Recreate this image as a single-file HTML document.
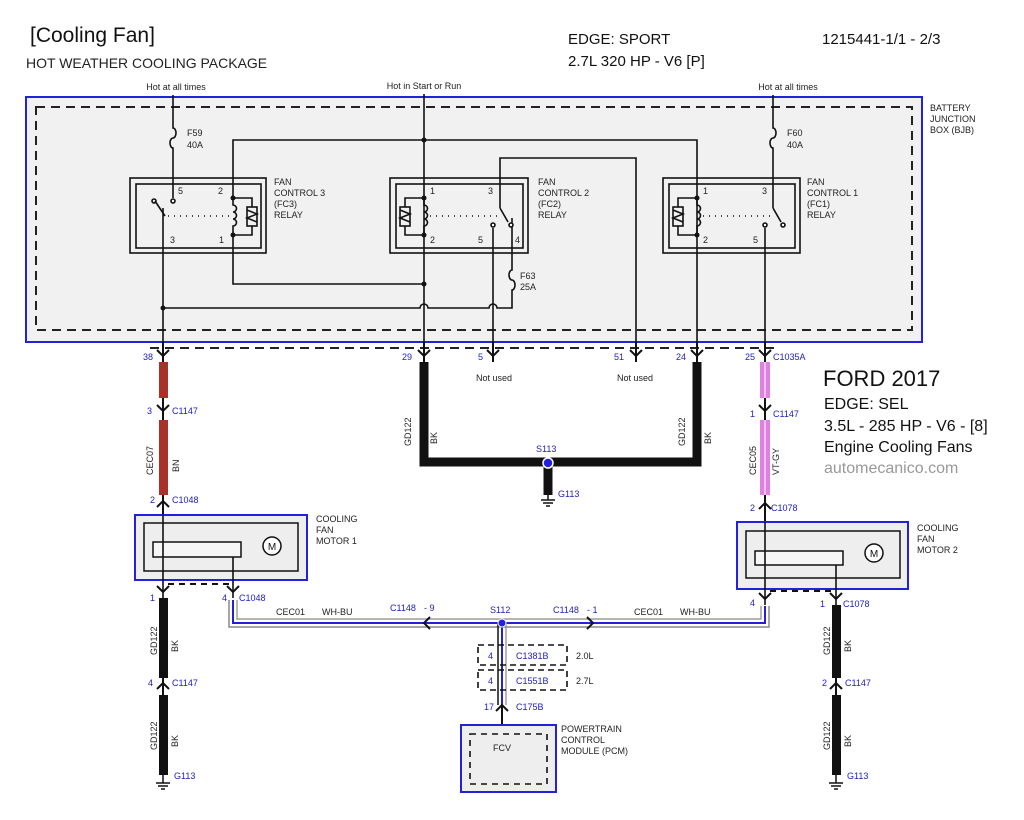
<!DOCTYPE html>
<html><head><meta charset="utf-8"><style>
html,body{margin:0;padding:0;background:#fff}
svg{display:block;font-family:"Liberation Sans",Arial,sans-serif}
.s{font-size:9px;fill:#222}
.b{font-size:9px;fill:#2020c0}
</style></head><body>
<svg width="1024" height="820" viewBox="0 0 1024 820" xmlns="http://www.w3.org/2000/svg">
<rect width="1024" height="820" fill="#fff"/>
<text x="30" y="42" font-size="21" fill="#111">[Cooling Fan]</text>
<text x="26" y="68" font-size="14" fill="#222">HOT WEATHER COOLING PACKAGE</text>
<text x="568" y="44" font-size="15" fill="#111">EDGE: SPORT</text>
<text x="568" y="66" font-size="15" fill="#111">2.7L 320 HP - V6 [P]</text>
<text x="822" y="44" font-size="15" fill="#111">1215441-1/1 - 2/3</text>

<text x="176" y="90" class="s" text-anchor="middle">Hot at all times</text>
<text x="424" y="89" class="s" text-anchor="middle">Hot in Start or Run</text>
<text x="788" y="90" class="s" text-anchor="middle">Hot at all times</text>
<text x="930" y="111" class="s">BATTERY</text>
<text x="930" y="122" class="s">JUNCTION</text>
<text x="930" y="133" class="s">BOX (BJB)</text>

<!-- BJB -->
<rect x="26" y="97" width="896" height="245" fill="#f1f1f1" stroke="#2222dd" stroke-width="2"/>
<rect x="36" y="107" width="876" height="223" fill="none" stroke="#222" stroke-width="2" stroke-dasharray="9,6"/>
<line x1="150" y1="348" x2="775" y2="348" stroke="#222" stroke-width="2" stroke-dasharray="9,6"/>

<g fill="none" stroke="#111" stroke-width="1.6">
<path d="M173 95 V128 a3 5 0 0 1 0 10 a3 5 0 0 0 0 10 V198"/>
<path d="M773 95 V128 a3 5 0 0 1 0 10 a3 5 0 0 0 0 10 V208"/>
<line x1="424" y1="94" x2="424" y2="348"/>
<path d="M233 198 V140 H697 V348"/>
<path d="M233 235 V284 H424"/>
<path d="M163 208 V348"/>
<path d="M163 308 H420 a4 4 0 0 1 8 0 H489 a4 4 0 0 1 8 0 H512 V290 a3 5 0 0 0 0 -10 a3 5 0 0 1 0 -10 V218"/>
<path d="M493 228 V348"/>
<path d="M500 208 V158 H636 V348"/>
<path d="M765 228 V348"/>
<rect x="130" y="178" width="136" height="75"/><rect x="136" y="184" width="125" height="64"/>
<rect x="390" y="178" width="138" height="75"/><rect x="396" y="184" width="127" height="64"/>
<rect x="663" y="178" width="137" height="75"/><rect x="669" y="184" width="126" height="64"/>
<path d="M155 201 L165 216"/><circle cx="154" cy="201" r="2"/><circle cx="173" cy="201" r="2" fill="#fff"/>
<path d="M233 198 V205 a3 3 0 0 1 0 7 a3 3 0 0 1 0 7 a3 3 0 0 1 0 7 V235"/>
<path d="M233 198 H252 V235 H233"/><rect x="247" y="207" width="10" height="19" fill="#f1f1f1"/><path d="M247 210 L257 214 L247 218 L257 222"/>
<path d="M424 198 V205 a3 3 0 0 1 0 7 a3 3 0 0 1 0 7 a3 3 0 0 1 0 7 V235"/>
<path d="M424 198 H405 V235 H424"/><rect x="400" y="207" width="10" height="19" fill="#f1f1f1"/><path d="M400 210 L410 214 L400 218 L410 222"/>
<path d="M500 208 L508 222"/><circle cx="511" cy="225" r="2" fill="#fff"/><circle cx="493" cy="225" r="2" fill="#fff"/>
<path d="M697 198 V205 a3 3 0 0 1 0 7 a3 3 0 0 1 0 7 a3 3 0 0 1 0 7 V235"/>
<path d="M697 198 H678 V235 H697"/><rect x="673" y="207" width="10" height="19" fill="#f1f1f1"/><path d="M673 210 L683 214 L673 218 L683 222"/>
<path d="M773 208 L781 222"/><circle cx="783" cy="225" r="2" fill="#fff"/><circle cx="765" cy="225" r="2" fill="#fff"/>
</g>
<g stroke="#111" stroke-width="1.6" stroke-dasharray="1,5">
<line x1="168" y1="216" x2="229" y2="216"/><line x1="430" y1="216" x2="500" y2="216"/><line x1="703" y1="216" x2="770" y2="216"/>
</g>
<g fill="#111">
<circle cx="233" cy="198" r="2.5"/><circle cx="233" cy="235" r="2.5"/>
<circle cx="424" cy="198" r="2.5"/><circle cx="424" cy="235" r="2.5"/>
<circle cx="697" cy="198" r="2.5"/><circle cx="697" cy="235" r="2.5"/>
<circle cx="424" cy="140" r="2.5"/><circle cx="424" cy="284" r="2.5"/><circle cx="163" cy="308" r="2.5"/>
</g>
<g class="s">
<text x="187" y="136" class="s">F59</text><text x="187" y="148" class="s">40A</text>
<text x="787" y="136" class="s">F60</text><text x="787" y="148" class="s">40A</text>
<text x="520" y="279" class="s">F63</text><text x="520" y="290" class="s">25A</text>
<text x="178" y="194" class="s">5</text><text x="218" y="194" class="s">2</text><text x="170" y="243" class="s">3</text><text x="219" y="243" class="s">1</text>
<text x="430" y="194" class="s">1</text><text x="488" y="194" class="s">3</text><text x="430" y="243" class="s">2</text><text x="478" y="243" class="s">5</text><text x="515" y="243" class="s">4</text>
<text x="703" y="194" class="s">1</text><text x="762" y="194" class="s">3</text><text x="703" y="243" class="s">2</text><text x="753" y="243" class="s">5</text>
<text x="274" y="185" class="s">FAN</text><text x="274" y="196" class="s">CONTROL 3</text><text x="274" y="207" class="s">(FC3)</text><text x="274" y="218" class="s">RELAY</text>
<text x="538" y="185" class="s">FAN</text><text x="538" y="196" class="s">CONTROL 2</text><text x="538" y="207" class="s">(FC2)</text><text x="538" y="218" class="s">RELAY</text>
<text x="807" y="185" class="s">FAN</text><text x="807" y="196" class="s">CONTROL 1</text><text x="807" y="207" class="s">(FC1)</text><text x="807" y="218" class="s">RELAY</text>
</g>

<g fill="none" stroke="#111" stroke-width="2">
<path d="M163 342 V362 M157 350 L163 356 L169 350"/>
<path d="M424 342 V362 M418 350 L424 356 L430 350"/>
<path d="M493 342 V362 M487 350 L493 356 L499 350"/>
<path d="M636 342 V362 M630 350 L636 356 L642 350"/>
<path d="M697 342 V362 M691 350 L697 356 L703 350"/>
<path d="M765 342 V362 M759 350 L765 356 L771 350"/>
</g>
<text x="143" y="360" class="b">38</text>
<text x="402" y="360" class="b">29</text>
<text x="478" y="360" class="b">5</text>
<text x="614" y="360" class="b">51</text>
<text x="676" y="360" class="b">24</text>
<text x="745" y="360" class="b">25</text><text x="773" y="360" class="b">C1035A</text>
<text x="476" y="381" class="s">Not used</text>
<text x="617" y="381" class="s">Not used</text>

<rect x="159" y="362" width="9" height="36" fill="#a83228"/>
<rect x="159" y="420" width="9" height="75" fill="#a83228"/>
<g fill="none" stroke="#111" stroke-width="2">
<path d="M163 398 V420 M157 405 L163 411 L169 405"/>
<path d="M163 495 V515 M157 507 L163 501 L169 507"/>
</g>
<text x="147" y="414" class="b">3</text><text x="172" y="414" class="b">C1147</text>
<text x="150" y="503" class="b">2</text><text x="172" y="503" class="b">C1048</text>
<text transform="translate(153,475) rotate(-90)" class="s">CEC07</text>
<text transform="translate(179,472) rotate(-90)" class="s">BN</text>

<path d="M424 362 V462 H697 V362" fill="none" stroke="#111" stroke-width="9"/>
<line x1="548" y1="462" x2="548" y2="495" stroke="#111" stroke-width="9"/>
<path d="M548 495 V500 M541 500 H555 M543 503 H553 M546 506 H550" stroke="#111" stroke-width="1.5"/>
<circle cx="548" cy="463" r="5" fill="#2222dd" stroke="#fff" stroke-width="1.5"/>
<text x="536" y="452" class="b">S113</text>
<text x="558" y="497" class="b">G113</text>
<text transform="translate(411,446) rotate(-90)" class="s">GD122</text>
<text transform="translate(437,444) rotate(-90)" class="s">BK</text>
<text transform="translate(685,446) rotate(-90)" class="s">GD122</text>
<text transform="translate(711,444) rotate(-90)" class="s">BK</text>

<g>
<rect x="760" y="362" width="10" height="36" fill="#e080e0"/>
<rect x="760" y="420" width="10" height="75" fill="#e080e0"/>
<line x1="765" y1="362" x2="765" y2="398" stroke="#fff" stroke-width="1"/>
<line x1="765" y1="420" x2="765" y2="495" stroke="#fff" stroke-width="1"/>
</g>
<g fill="none" stroke="#111" stroke-width="2">
<path d="M765 398 V420 M759 405 L765 411 L771 405"/>
<path d="M765 495 V522 M759 509 L765 503 L771 509"/>
</g>
<text x="750" y="417" class="b">1</text><text x="773" y="417" class="b">C1147</text>
<text x="750" y="511" class="b">2</text><text x="771" y="511" class="b">C1078</text>
<text transform="translate(756,475) rotate(-90)" class="s">CEC05</text>
<text transform="translate(779,475) rotate(-90)" class="s">VT-GY</text>

<text x="823" y="386" font-size="22" fill="#111">FORD 2017</text>
<text x="824" y="409" font-size="16" fill="#111">EDGE: SEL</text>
<text x="824" y="431" font-size="16" fill="#111">3.5L - 285 HP - V6 - [8]</text>
<text x="824" y="452" font-size="16" fill="#111">Engine Cooling Fans</text>
<text x="824" y="473" font-size="16" fill="#999">automecanico.com</text>

<rect x="135" y="515" width="172" height="65" fill="#eee" stroke="#2222dd" stroke-width="2"/>
<rect x="144" y="523" width="154" height="48" fill="none" stroke="#111" stroke-width="1.5"/>
<rect x="153" y="542" width="88" height="15" fill="#f6f6f6" stroke="#111" stroke-width="1.5"/>
<circle cx="272" cy="546" r="9" fill="#fff" stroke="#111" stroke-width="1.5"/>
<text x="272" y="550" font-size="10" text-anchor="middle" fill="#111">M</text>
<text x="316" y="522" class="s">COOLING</text><text x="316" y="533" class="s">FAN</text><text x="316" y="544" class="s">MOTOR 1</text>
<rect x="737" y="522" width="171" height="67" fill="#eee" stroke="#2222dd" stroke-width="2"/>
<rect x="746" y="531" width="154" height="47" fill="none" stroke="#111" stroke-width="1.5"/>
<rect x="755" y="551" width="88" height="14" fill="#f6f6f6" stroke="#111" stroke-width="1.5"/>
<circle cx="874" cy="553" r="9" fill="#fff" stroke="#111" stroke-width="1.5"/>
<text x="874" y="557" font-size="10" text-anchor="middle" fill="#111">M</text>
<text x="917" y="531" class="s">COOLING</text><text x="917" y="542" class="s">FAN</text><text x="917" y="553" class="s">MOTOR 2</text>

<g fill="none" stroke="#111" stroke-width="1.6">
<line x1="163" y1="515" x2="163" y2="598"/><line x1="233" y1="557" x2="233" y2="598"/>
<line x1="765" y1="522" x2="765" y2="605"/><line x1="836" y1="565" x2="836" y2="605"/>
</g>
<g stroke="#111" stroke-width="2" stroke-dasharray="6,5"><line x1="168" y1="584" x2="230" y2="584"/><line x1="770" y1="591" x2="832" y2="591"/></g>
<g fill="none" stroke="#111" stroke-width="2">
<path d="M157 586 L163 592 L169 586"/><path d="M227 586 L233 592 L239 586"/>
<path d="M759 593 L765 599 L771 593"/><path d="M830 593 L836 599 L842 593"/>
<path d="M163 678 V695 M157 689 L163 683 L169 689"/>
<path d="M836 678 V695 M830 689 L836 683 L842 689"/>
</g>
<text x="150" y="601" class="b">1</text>
<text x="222" y="601" class="b">4</text><text x="239" y="601" class="b">C1048</text>
<text x="750" y="606" class="b">4</text>
<text x="820" y="607" class="b">1</text><text x="843" y="607" class="b">C1078</text>

<rect x="159" y="598" width="9" height="80" fill="#111"/><rect x="159" y="695" width="9" height="80" fill="#111"/>
<rect x="832" y="605" width="9" height="73" fill="#111"/><rect x="832" y="695" width="9" height="80" fill="#111"/>
<path d="M163 775 V783 M156 783 H170 M158 786 H168 M161 789 H165" stroke="#111" stroke-width="1.5"/>
<path d="M836 775 V783 M829 783 H843 M831 786 H841 M834 789 H838" stroke="#111" stroke-width="1.5"/>
<text x="148" y="686" class="b">4</text><text x="172" y="686" class="b">C1147</text>
<text x="822" y="686" class="b">2</text><text x="845" y="686" class="b">C1147</text>
<text x="174" y="779" class="b">G113</text><text x="847" y="779" class="b">G113</text>
<text transform="translate(157,655) rotate(-90)" class="s">GD122</text><text transform="translate(178,652) rotate(-90)" class="s">BK</text>
<text transform="translate(157,750) rotate(-90)" class="s">GD122</text><text transform="translate(178,747) rotate(-90)" class="s">BK</text>
<text transform="translate(830,655) rotate(-90)" class="s">GD122</text><text transform="translate(851,652) rotate(-90)" class="s">BK</text>
<text transform="translate(830,750) rotate(-90)" class="s">GD122</text><text transform="translate(851,747) rotate(-90)" class="s">BK</text>

<g fill="none">
<path d="M229 600 V627 H769 V606" stroke="#888" stroke-width="1.5"/>
<path d="M233 600 V623 H765 V606" stroke="#2222dd" stroke-width="2"/>
<path d="M237 600 V619 H761 V606" stroke="#888" stroke-width="1.2"/>
<path d="M498 623 V705" stroke="#111" stroke-width="1.5"/>
<path d="M502 623 V705" stroke="#2222dd" stroke-width="2"/>
<path d="M506 623 V705" stroke="#888" stroke-width="1.2"/>
</g>
<g fill="none" stroke="#111" stroke-width="2">
<path d="M430 617 L424 623 L430 629"/><path d="M587 617 L593 623 L587 629"/>
<path d="M496 711 L502 705 L508 711 M502 705 V725"/>
</g>
<circle cx="502" cy="623" r="4" fill="#2222dd" stroke="#fff" stroke-width="1"/>
<text x="276" y="615" class="s">CEC01</text><text x="322" y="615" class="s">WH-BU</text>
<text x="390" y="611" class="b">C1148</text><text x="424" y="611" class="b">- 9</text>
<text x="490" y="613" class="b">S112</text>
<text x="553" y="613" class="b">C1148</text><text x="587" y="613" class="b">- 1</text>
<text x="634" y="615" class="s">CEC01</text><text x="680" y="615" class="s">WH-BU</text>

<g fill="none" stroke="#111" stroke-width="1.6" stroke-dasharray="6,4">
<rect x="478" y="645" width="89" height="20"/>
<rect x="478" y="670" width="89" height="20"/>
</g>
<text x="488" y="659" class="b">4</text><text x="516" y="659" class="b">C1381B</text><text x="576" y="659" class="s">2.0L</text>
<text x="488" y="684" class="b">4</text><text x="516" y="684" class="b">C1551B</text><text x="576" y="684" class="s">2.7L</text>
<text x="484" y="710" class="b">17</text><text x="516" y="710" class="b">C175B</text>

<rect x="461" y="725" width="95" height="67" fill="#eee" stroke="#2222dd" stroke-width="2"/>
<rect x="470" y="734" width="77" height="50" fill="none" stroke="#111" stroke-width="1.6" stroke-dasharray="6,5"/>
<text x="493" y="751" class="s">FCV</text>
<text x="561" y="732" class="s">POWERTRAIN</text><text x="561" y="743" class="s">CONTROL</text><text x="561" y="754" class="s">MODULE (PCM)</text>
</svg>
</body></html>
